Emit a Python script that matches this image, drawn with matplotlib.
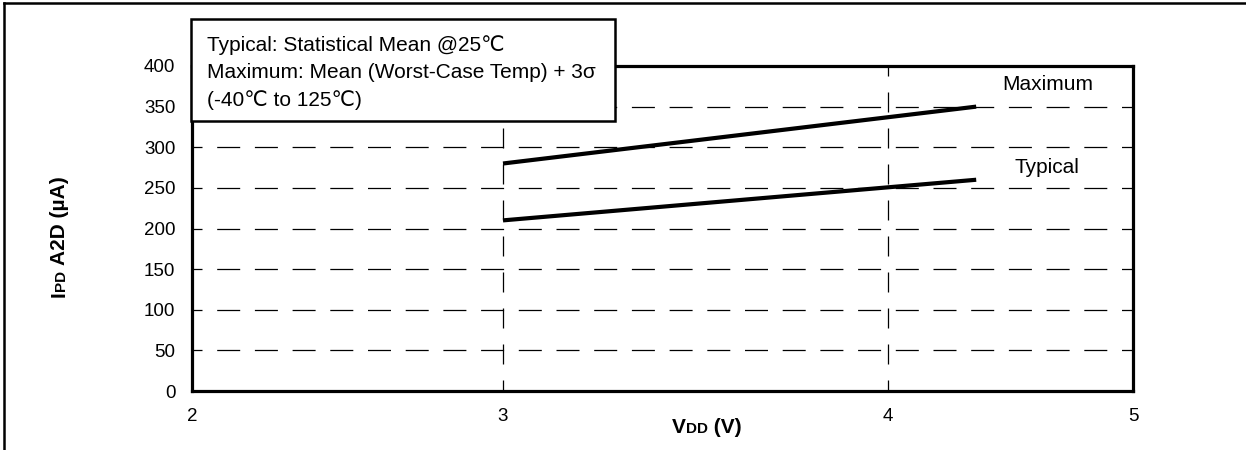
import numpy as np
import matplotlib
matplotlib.use("Agg")
import matplotlib.pyplot as plt
from matplotlib.patches import Rectangle
from matplotlib.lines import Line2D

# ---- data ----
vdd = [3.0, 4.36]
maximum = [280, 350]
typical = [210, 260]
x_ticks = [2, 3, 4, 5]
y_ticks = [0, 50, 100, 150, 200, 250, 300, 350, 400]
series_labels = ["Maximum", "Typical"]
note_lines = ["Typical: Statistical Mean @25\u2103",
              "Maximum: Mean (Worst-Case Temp) + 3\u03c3",
              "(-40\u2103 to 125\u2103)"]

plt.rcParams['font.family'] = ['Liberation Sans', 'DejaVu Sans']
plt.rcParams['lines.scale_dashes'] = False

W, H = 1246, 450
fig = plt.figure(figsize=(W / 100, H / 100), dpi=100)

def fx(px):
    return px / W

def fy(py):
    return 1 - py / H

ax = fig.add_axes([fx(192), fy(391), fx(1133 - 192), (391 - 66) / H])

# piecewise axis scale (tick spacing in the original is uneven)
_brk = np.array([2.0, 3.0, 4.0, 5.0])
_pos = np.array([0.0, 311.0, 696.0, 941.0])

def _fwd(x):
    return np.interp(x, _brk, _pos)

def _inv(p):
    return np.interp(p, _pos, _brk)

ax.set_xscale('function', functions=(_fwd, _inv))
ax.set_xlim(2, 5)
ax.set_ylim(0, 400)
ax.set_xticks(x_ticks)
ax.set_yticks(y_ticks)
ax.set_xticklabels([str(t) for t in x_ticks])
ax.tick_params(axis='both', length=0, labelsize=13.5, colors='black')
ax.tick_params(axis='y', pad=12)
ax.tick_params(axis='x', pad=12)

px2pt = 0.72
ax.yaxis.grid(True, color='black', lw=0.9,
              linestyle=(13 * px2pt, (23 * px2pt, 14.7 * px2pt)))
ax.xaxis.grid(True, color='black', lw=0.9,
              linestyle=(9 * px2pt, (20 * px2pt, 16 * px2pt)))
ax.set_axisbelow(True)

for s in ax.spines.values():
    s.set_linewidth(2.3)
    s.set_color('black')

ax.plot(vdd, maximum, color='black', lw=3.0, solid_capstyle='butt', zorder=3)
ax.plot(vdd, typical, color='black', lw=3.0, solid_capstyle='butt', zorder=3)

ax.text(4.65, 377, series_labels[0], fontsize=15, ha='center', va='center')
ax.text(4.65, 275, series_labels[1], fontsize=15, ha='center', va='center')

# note box
fig.add_artist(Rectangle((fx(191), fy(121)), fx(615 - 191), (121 - 19) / H,
                         transform=fig.transFigure, facecolor='white',
                         edgecolor='black', lw=1.8, zorder=5))
for i, t in enumerate(note_lines):
    fig.text(fx(207), fy(45 + 27.5 * i), t, fontsize=15, ha='left', va='center', zorder=6)

# outer frame (top and left)
fig.add_artist(Line2D([fx(4), 1.0], [fy(3), fy(3)], transform=fig.transFigure,
                      color='black', lw=1.8))
fig.add_artist(Line2D([fx(4), fx(4)], [fy(3), 0.0], transform=fig.transFigure,
                      color='black', lw=1.8))

# mixed-size labels
renderer = fig.canvas.get_renderer()

def pieces(x0, y0, parts, rotation=0):
    x, y = x0, y0
    for txt, size in parts:
        t = fig.text(x, y, txt, fontsize=size, fontweight='bold', ha='left',
                     va='baseline', rotation=rotation, rotation_mode='anchor')
        bb = t.get_window_extent(renderer)
        if rotation == 0:
            x += bb.width / W
        else:
            y += bb.height / H

pieces(fx(672), fy(433), [("V", 15), ("DD", 11), (" (V)", 15)])
pieces(fx(65), fy(297), [("I", 15), ("PD", 11), (" A2D (\u00b5A)", 15)], rotation=90)

fig.savefig("out.png", dpi=100)
